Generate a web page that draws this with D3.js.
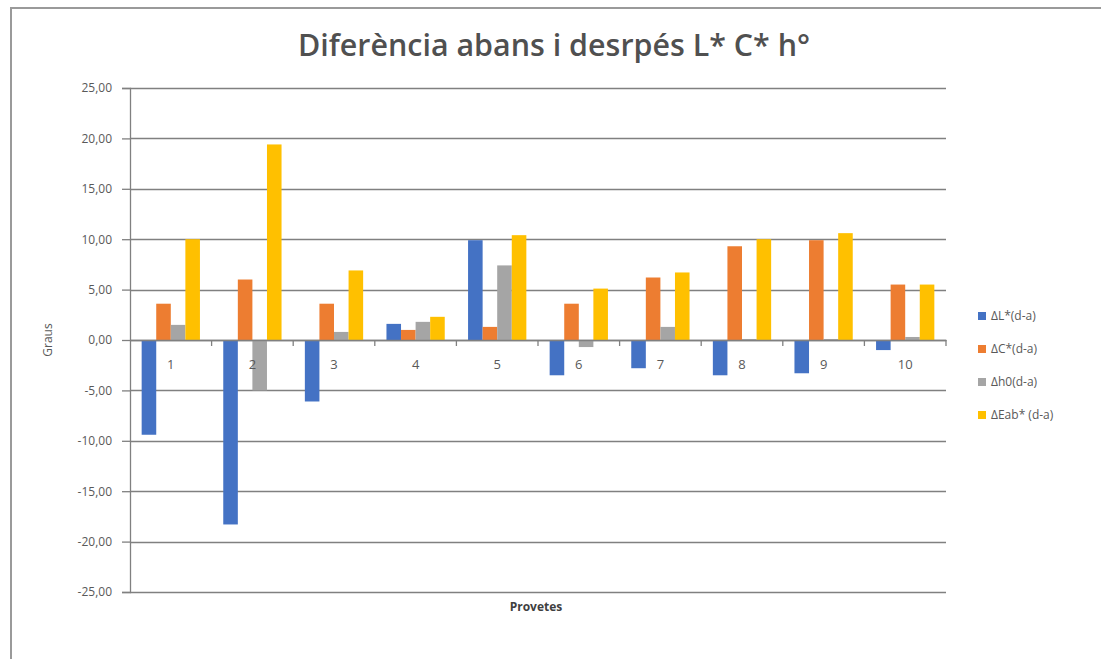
<!DOCTYPE html>
<html>
<head>
<meta charset="utf-8">
<script src="https://cdn.jsdelivr.net/npm/d3@7/dist/d3.min.js"></script>
<style>
  html, body { margin: 0; padding: 0; background: #fff; }
  svg { display: block; }
  text { font-family: "Open Sans", "DejaVu Sans", sans-serif; }
</style>
</head>
<body>
<svg id="chart" width="1101" height="659"></svg>
<script>
// Provetes (samples) along the x axis
const categories = ["1", "2", "3", "4", "5", "6", "7", "8", "9", "10"];

// Colour differences after minus before, per sample
const seriesNames = ["ΔL*(d-a)", "ΔC*(d-a)", "Δh0(d-a)", "ΔEab* (d-a)"];
const deltaL   = [-9.4, -18.3, -6.1, 1.6, 9.9, -3.5, -2.8, -3.5, -3.3, -1.0];
const deltaC   = [3.6, 6.0, 3.6, 1.0, 1.3, 3.6, 6.2, 9.3, 9.9, 5.5];
const deltaH   = [1.5, -5.0, 0.8, 1.8, 7.4, -0.7, 1.3, 0.1, 0.1, 0.3];
const deltaEab = [10.0, 19.4, 6.9, 2.3, 10.4, 5.1, 6.7, 10.0, 10.6, 5.5];
const seriesValues = [deltaL, deltaC, deltaH, deltaEab];
const seriesColors = ["#4472C4", "#ED7D31", "#A5A5A5", "#FFC000"];

const yTicks = [25, 20, 15, 10, 5, 0, -5, -10, -15, -20, -25];

const svg = d3.select("#chart");

// outer frame (top and left edges)
svg.append("path")
  .attr("d", "M11,659 L11,8 L1101,8")
  .attr("fill", "none")
  .attr("stroke", "#9a9a9a")
  .attr("stroke-width", 2);

const plot = { left: 130, right: 946, top: 88, bottom: 592 };

const y = d3.scaleLinear().domain([-25, 25]).range([plot.bottom, plot.top]);
const x0 = d3.scaleBand().domain(categories).range([plot.left, plot.right]).paddingInner(0).paddingOuter(0);
const x1 = d3.scaleBand().domain(d3.range(seriesNames.length)).range([0, x0.bandwidth()]).paddingInner(0).paddingOuter(0.8);

// horizontal gridlines
svg.append("g")
  .selectAll("line")
  .data(yTicks)
  .join("line")
  .attr("x1", plot.left)
  .attr("x2", plot.right)
  .attr("y1", d => Math.round(y(d)) + 0.5)
  .attr("y2", d => Math.round(y(d)) + 0.5)
  .attr("stroke", "#808080")
  .attr("stroke-width", 1.3);

// y axis with tick labels (comma decimals, plain hyphen for negatives)
const yAxis = d3.axisLeft(y)
  .tickValues(yTicks)
  .tickSize(8)
  .tickPadding(10)
  .tickFormat(d => d3.format(".2f")(d).replace(".", ",").replace("\u2212", "-"));
const gy = svg.append("g")
  .attr("transform", `translate(${plot.left},0)`)
  .call(yAxis);
gy.select(".domain").attr("stroke", "#808080").attr("stroke-width", 1.3);
gy.selectAll(".tick line").attr("stroke", "#808080").attr("stroke-width", 1.3);
gy.selectAll(".tick text")
  .attr("fill", "#595959")
  .style("font-size", "12px")
  .style("font-family", "'Open Sans', sans-serif");

// bars
const groups = svg.append("g")
  .selectAll("g")
  .data(categories)
  .join("g")
  .attr("transform", d => `translate(${x0(d)},0)`);

groups.selectAll("rect")
  .data((c, i) => seriesValues.map((vals, s) => ({ s, v: vals[i] })))
  .join("rect")
  .attr("x", d => x1(d.s))
  .attr("width", x1.bandwidth())
  .attr("y", d => y(Math.max(0, d.v)))
  .attr("height", d => Math.abs(y(d.v) - y(0)))
  .attr("fill", d => seriesColors[d.s]);

// category axis along zero
const xAxis = d3.axisBottom(x0).tickSize(0).tickPadding(20);
const gx = svg.append("g")
  .attr("transform", `translate(0,${y(0)})`)
  .call(xAxis);
gx.select(".domain").attr("stroke", "#808080").attr("stroke-width", 1.3);
gx.selectAll(".tick text")
  .attr("fill", "#595959")
  .style("font-size", "13px")
  .style("font-family", "'Open Sans', sans-serif");
// category boundary tick marks
gx.append("g")
  .selectAll("line")
  .data(categories)
  .join("line")
  .attr("x1", d => x0(d) + x0.bandwidth())
  .attr("x2", d => x0(d) + x0.bandwidth())
  .attr("y1", 0)
  .attr("y2", 6)
  .attr("stroke", "#808080")
  .attr("stroke-width", 1.3);

// title
svg.append("text")
  .attr("x", 554)
  .attr("y", 56)
  .attr("text-anchor", "middle")
  .attr("fill", "#505050")
  .attr("textLength", 512)
  .attr("lengthAdjust", "spacingAndGlyphs")
  .style("font-size", "30px")
  .style("font-weight", "600")
  .text("Diferència abans i desrpés L* C* h°");

// axis titles
svg.append("text")
  .attr("transform", `translate(52,${y(0)}) rotate(-90)`)
  .attr("text-anchor", "middle")
  .attr("fill", "#595959")
  .style("font-size", "12px")
  .text("Graus");

svg.append("text")
  .attr("x", 536)
  .attr("y", 611)
  .attr("text-anchor", "middle")
  .attr("fill", "#404040")
  .style("font-size", "12px")
  .style("font-weight", "bold")
  .text("Provetes");

// legend
const legend = svg.append("g")
  .selectAll("g")
  .data(seriesNames)
  .join("g")
  .attr("transform", (d, i) => `translate(978,${316 + i * 33})`);
legend.append("rect")
  .attr("x", 0)
  .attr("y", -4)
  .attr("width", 8)
  .attr("height", 8)
  .attr("fill", (d, i) => seriesColors[i]);
legend.append("text")
  .attr("x", 13)
  .attr("y", 0)
  .attr("dy", "0.35em")
  .attr("fill", "#595959")
  .style("font-size", "12px")
  .text(d => d);
</script>
</body>
</html>
